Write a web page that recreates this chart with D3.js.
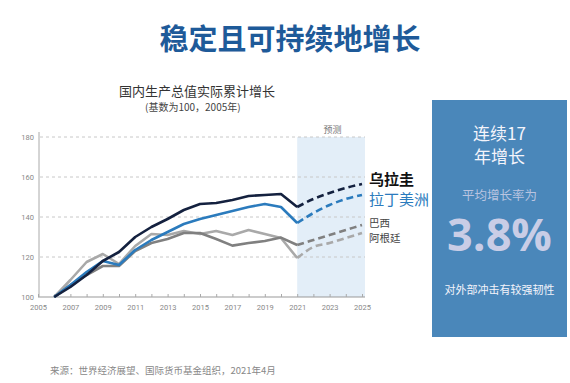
<!DOCTYPE html>
<html>
<head>
<meta charset="utf-8">
<script src="https://cdn.jsdelivr.net/npm/d3@7"></script>
<style>
  body { margin: 0; background: #fff; }
  svg { font-family: "Noto Sans CJK SC", "Noto Sans", sans-serif; }
</style>
</head>
<body>
<svg id="chart" width="570" height="383"></svg>
<script>
// data
var years = [2006, 2007, 2008, 2009, 2010, 2011, 2012, 2013, 2014, 2015, 2016, 2017, 2018, 2019, 2020, 2021];
var uruguay = [100, 105, 111, 118, 122.5, 130, 135, 139, 143.5, 146.5, 147, 148.5, 150.5, 151, 151.5, 145];
var latam = [100, 106, 112.5, 118, 116, 123.5, 128.5, 132.5, 136.5, 139, 141, 143, 145, 146.5, 145, 137];
var brazil = [100, 106, 111, 115.5, 115.5, 123, 127, 129, 132, 132, 129, 125.7, 127, 128, 129.7, 126];
var argentina = [100, 108.5, 117.5, 121.5, 116.5, 125.5, 131.5, 131, 133, 131.5, 133, 131, 133.5, 131.5, 129.5, 119.5];

var fcYears = [2021, 2022, 2023, 2024, 2025];
var uruguayFc = [145, 149, 152, 154.5, 156.5];
var latamFc = [137, 142, 146, 149, 151];
var brazilFc = [126, 128.5, 131, 133.5, 136];
var argentinaFc = [119.5, 125, 127, 129.5, 132];

var yTicks = [100, 120, 140, 160, 180];
var xTicks = [2005, 2007, 2009, 2011, 2013, 2015, 2017, 2019, 2021, 2023, 2025];

var series = [
  { name: "阿根廷", hist: argentina, fc: argentinaFc, color: "#a9a9a9" },
  { name: "巴西", hist: brazil, fc: brazilFc, color: "#808080" },
  { name: "拉丁美洲", hist: latam, fc: latamFc, color: "#2b7bbd" },
  { name: "乌拉圭", hist: uruguay, fc: uruguayFc, color: "#14213f" }
];

var svg = d3.select("#chart");

var x = d3.scaleLinear().domain([2005, 2025]).range([38, 362]);
var y = d3.scaleLinear().domain([100, 180]).range([297, 137]);

// main title
svg.append("text").attr("x", 290).attr("y", 50).attr("text-anchor", "middle")
  .style("font-size", "29px").style("font-weight", "bold").style("fill", "#1e5a99")
  .text("稳定且可持续地增长");

// chart title
svg.append("text").attr("x", 197).attr("y", 96).attr("text-anchor", "middle")
  .style("font-size", "13px").style("fill", "#333").text("国内生产总值实际累计增长");
svg.append("text").attr("x", 145).attr("y", 111)
  .style("font-size", "10px").style("fill", "#444").text("(基数为100，2005年)");

// forecast band
svg.append("rect").attr("x", x(2021)).attr("y", y(180))
  .attr("width", x(2025) - x(2021) + 3).attr("height", y(100) - y(180))
  .style("fill", "#e3eef8");
svg.append("text").attr("x", (x(2021) + x(2025)) / 2 + 3).attr("y", 133)
  .attr("text-anchor", "middle").style("font-size", "9px").style("fill", "#777").text("预测");

// grid
svg.append("g").selectAll("line").data(yTicks.slice(1)).join("line")
  .attr("x1", x(2005) + 2).attr("x2", x(2025) + 3)
  .attr("y1", d => y(d)).attr("y2", d => y(d))
  .style("stroke", "#c8c8c8").style("stroke-width", 1).style("stroke-dasharray", "3,3");

// axes
var xAxis = d3.axisBottom(x).tickValues(d3.range(2005, 2026)).tickSize(3)
  .tickFormat(d => xTicks.indexOf(d) >= 0 ? d : "");
var gx = svg.append("g").attr("transform", "translate(0," + y(100) + ")").call(xAxis);
gx.select(".domain").style("stroke", "#999").attr("d", "M" + x(2005) + ",0H" + (x(2025) + 3));
gx.selectAll(".tick line").style("stroke", "#aaa").attr("y1", -3).attr("y2", 0);
gx.selectAll(".tick text").attr("y", 8).style("font-size", "7.5px").style("fill", "#888")
  .style("font-family", "Roboto, sans-serif");

var yAxis = d3.axisLeft(y).tickValues(yTicks).tickSize(0).tickPadding(5);
var gy = svg.append("g").attr("transform", "translate(" + (x(2005) + 1) + ",0)").call(yAxis);
gy.select(".domain").style("stroke", "#aaa").attr("d", "M0," + y(100) + "V" + (y(180) - 5));
gy.selectAll(".tick text").style("font-size", "7.5px").style("fill", "#888")
  .style("font-family", "Roboto, sans-serif");

// lines
var line = d3.line().x(d => x(d[0])).y(d => y(d[1]));
series.forEach(function (s) {
  svg.append("path").datum(d3.zip(years, s.hist)).attr("d", line)
    .style("fill", "none").style("stroke", s.color).style("stroke-width", 2.6)
    .style("stroke-linejoin", "round");
  svg.append("path").datum(d3.zip(fcYears, s.fc)).attr("d", d3.line().curve(d3.curveMonotoneX).x(d => x(d[0])).y(d => y(d[1])))
    .style("fill", "none").style("stroke", s.color).style("stroke-width", 2.6)
    .style("stroke-dasharray", "7,4");
});

// series labels
svg.append("text").attr("x", 369).attr("y", 185).style("font-size", "15px").style("font-weight", "bold")
  .style("fill", "#111").text("乌拉圭");
svg.append("text").attr("x", 369).attr("y", 205).style("font-size", "15px")
  .style("fill", "#2b7bbd").text("拉丁美洲");
svg.append("text").attr("x", 369).attr("y", 227).style("font-size", "10.5px")
  .style("fill", "#444").text("巴西");
svg.append("text").attr("x", 369).attr("y", 242).style("font-size", "10.5px")
  .style("fill", "#444").text("阿根廷");

// side panel
svg.append("rect").attr("x", 432).attr("y", 100).attr("width", 135).attr("height", 237)
  .style("fill", "#4a87ba");
var cx = 499.5;
svg.append("text").attr("x", cx).attr("y", 140).attr("text-anchor", "middle")
  .style("font-size", "17px").style("fill", "#f4f4fb").text("连续17");
svg.append("text").attr("x", cx).attr("y", 163).attr("text-anchor", "middle")
  .style("font-size", "17px").style("fill", "#f4f4fb").text("年增长");
svg.append("text").attr("x", cx).attr("y", 200).attr("text-anchor", "middle")
  .style("font-size", "12.5px").style("fill", "#b9c4e0").text("平均增长率为");
svg.append("text").attr("x", cx).attr("y", 251).attr("text-anchor", "middle")
  .style("font-size", "45px").style("font-weight", "bold").style("fill", "#c9cde6")
  .style("font-family", "'Open Sans', sans-serif").text("3.8%");
svg.append("text").attr("x", cx).attr("y", 294).attr("text-anchor", "middle")
  .style("font-size", "11px").style("fill", "#f4f4fb").text("对外部冲击有较强韧性");

// source
svg.append("text").attr("x", 50).attr("y", 374).style("font-size", "9.5px")
  .style("fill", "#888").text("来源：世界经济展望、国际货币基金组织，2021年4月");
</script>
</body>
</html>
